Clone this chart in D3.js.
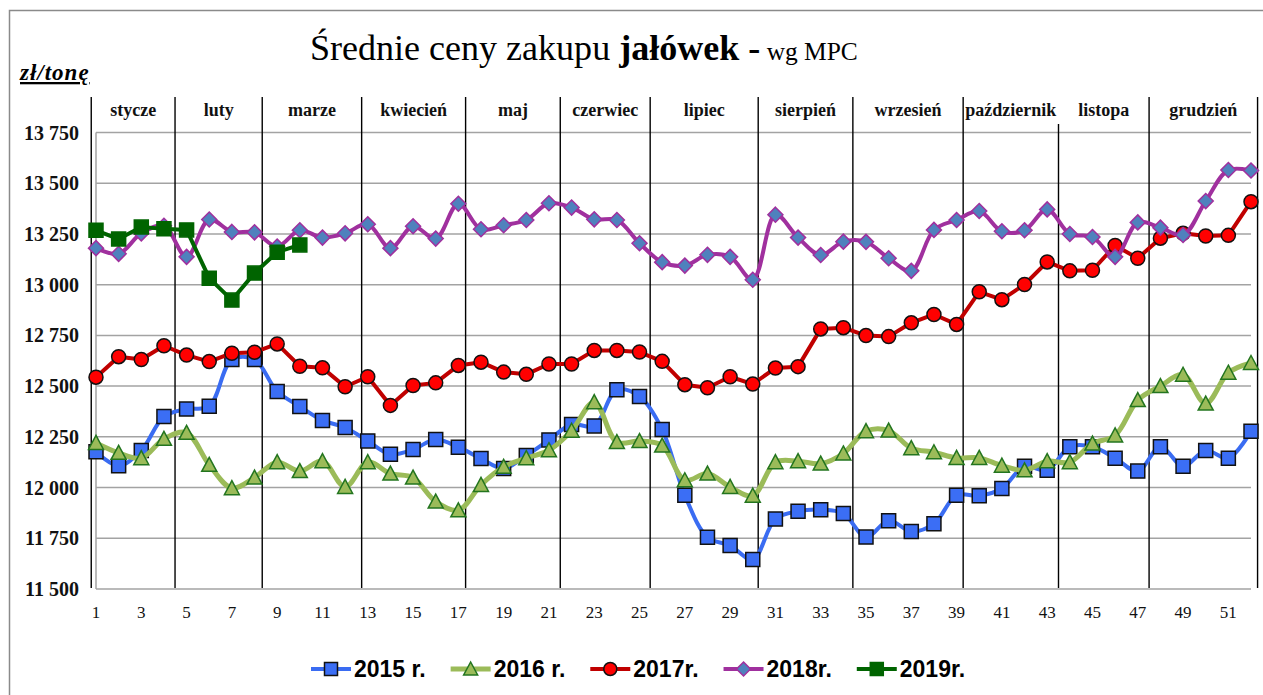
<!DOCTYPE html>
<html>
<head>
<meta charset="utf-8">
<title>Średnie ceny zakupu jałówek</title>
<script src="https://cdnjs.cloudflare.com/ajax/libs/d3/7.8.5/d3.min.js"></script>
<style>
html, body { margin: 0; padding: 0; background: #fff; }
svg { display: block; }
.grid line { stroke: #a3a3a3; stroke-width: 1.5px; }
.month { stroke: #000; stroke-width: 1.4px; }
.mlabel { font: bold 18px "Liberation Serif", "Times New Roman", serif; text-anchor: middle; fill: #111; }
.ylab { font: bold 20px "Liberation Serif", "Times New Roman", serif; text-anchor: end; fill: #111; }
.xlab { font: 17px "Liberation Serif", "Times New Roman", serif; text-anchor: middle; fill: #111; }
.leg { font: bold 23px "Liberation Sans", Arial, sans-serif; fill: #000; }
</style>
</head>
<body>
<svg id="chart" width="1263" height="695"></svg>
<script>

// tygodnie roku
var weeks = [1,2,3,4,5,6,7,8,9,10,11,12,13,14,15,16,17,18,19,20,21,22,23,24,25,26,
  27,28,29,30,31,32,33,34,35,36,37,38,39,40,41,42,43,44,45,46,47,48,49,50,51,52];

var s2015 = [12176,12108,12183,12350,12387,12401,12631,12631,12474,12400,
  12331,12296,12230,12164,12187,12237,12199,12143,12094,12158,
  12235,12311,12304,12482,12449,12286,11962,11755,11714,11645,
  11845,11883,11891,11872,11756,11837,11784,11821,11962,11959,
  11995,12105,12085,12201,12201,12145,12081,12201,12105,12183,
  12145,12278];

var s2016 = [12220,12171,12145,12240,12270,12112,11997,12049,12125,12081,
  12130,12003,12125,12069,12049,11931,11888,12013,12102,12145,
  12184,12280,12421,12224,12229,12207,12036,12069,12003,11960,
  12125,12130,12118,12168,12278,12281,12194,12174,12146,12146,
  12108,12085,12130,12125,12217,12257,12431,12500,12556,12414,
  12566,12614];

var s2017 = [12544,12645,12631,12699,12653,12621,12662,12667,12708,12598,
  12590,12497,12546,12405,12503,12516,12602,12618,12569,12558,
  12609,12609,12676,12676,12668,12622,12507,12492,12546,12510,
  12589,12596,12782,12788,12749,12744,12812,12853,12804,12965,
  12926,13001,13112,13068,13071,13193,13130,13229,13253,13240,
  13243,13409];

var s2018 = [13180,13152,13253,13290,13137,13321,13260,13258,13188,13268,
  13232,13253,13298,13180,13288,13227,13399,13273,13293,13319,
  13401,13380,13322,13319,13204,13111,13094,13147,13137,13024,
  13345,13232,13146,13212,13211,13130,13068,13270,13319,13363,
  13263,13268,13371,13250,13235,13137,13307,13281,13245,13412,
  13565,13563];

var s2019 = [13268,13225,13284,13275,13270,13032,12924,13057,13160,13196];

var yTicks = [11500,11750,12000,12250,12500,12750,13000,13250,13500,13750];
var xTicks = [1,3,5,7,9,11,13,15,17,19,21,23,25,27,29,31,33,35,37,39,41,43,45,47,49,51];

var months = ["stycze","luty","marze","kwiecień","maj","czerwiec","lipiec",
  "sierpień","wrzesień","październik","listopa","grudzień"];
// granice miesięcy (w tygodniach)
var monthBounds = [0.79,4.49,8.34,12.73,17.32,21.5,25.47,30.24,34.42,39.29,43.5,47.5,52.29];

var seriesNames = ["2015 r.","2016 r.","2017r.","2018r.","2019r."];

var svg = d3.select("#chart");

var x = d3.scaleLinear().domain([1, 52]).range([96, 1251]);
var y = d3.scaleLinear().domain([11500, 13750]).range([589, 132.5]);

// ramka
svg.append("path")
    .attr("d", "M9.5,700 L9.5,10.5 L1270,10.5")
    .attr("fill", "none")
    .attr("stroke", "#8a8a8a")
    .attr("stroke-width", 1.5);

// siatka
var grid = svg.append("g").attr("class", "grid");
grid.selectAll("line.h")
  .data(yTicks)
  .enter().append("line")
    .attr("x1", x(1)).attr("x2", x(52))
    .attr("y1", function(d) { return y(d); })
    .attr("y2", function(d) { return y(d); });
grid.append("line")
    .attr("x1", x(1)).attr("x2", x(1))
    .attr("y1", y(13750)).attr("y2", y(11500));

// linie miesięcy
svg.selectAll("line.month")
  .data(monthBounds)
  .enter().append("line")
    .attr("class", "month")
    .attr("x1", function(d) { return x(d); })
    .attr("x2", function(d) { return x(d); })
    .attr("y1", function(d, i) { return i == 10 ? 124 : 97; })
    .attr("y2", 588);

svg.selectAll("text.mlabel")
  .data(months)
  .enter().append("text")
    .attr("class", "mlabel")
    .attr("x", function(d, i) { return (x(monthBounds[i]) + x(monthBounds[i + 1])) / 2; })
    .attr("y", 116)
    .text(function(d) { return d; });

// osie
svg.selectAll("text.ylab")
  .data(yTicks)
  .enter().append("text")
    .attr("class", "ylab")
    .attr("x", 79)
    .attr("y", function(d) { return y(d) + 7; })
    .text(function(d) { return d3.format(",")(d).replace(",", " "); });

svg.selectAll("text.xlab")
  .data(xTicks)
  .enter().append("text")
    .attr("class", "xlab")
    .attr("x", function(d) { return x(d); })
    .attr("y", 618)
    .text(function(d) { return d; });

svg.append("text")
    .attr("x", 20).attr("y", 80)
    .style("font", "italic bold 23px 'Liberation Serif', serif")
    .style("letter-spacing", "1px")
    .style("text-decoration", "underline")
    .text("zł/tonę");

// tytuł
var title = svg.append("text")
    .attr("x", 310).attr("y", 60)
    .style("font-family", "'Liberation Serif', 'Times New Roman', serif")
    .style("fill", "#000");
title.append("tspan").style("font-size", "34px").text("Średnie ceny zakupu ");
title.append("tspan").style("font-size", "34px").style("font-weight", "bold").text("jałówek -");
title.append("tspan").style("font-size", "24px").text(" wg MPC");
var tw = title.node().getComputedTextLength();
var k = 548 / tw;
title.selectAll("tspan").style("font-size", function() {
  return (parseFloat(this.style.fontSize) * k) + "px";
});

// style serii
var styles = [
  {data: s2015, line: "#3a6cf2", width: 4, curve: d3.curveCatmullRom, marker: "square", size: 14, fill: "#3b6ef5", stroke: "#111"},
  {data: s2016, line: "#9bbb59", width: 5, curve: d3.curveCatmullRom, marker: "triangle", size: 13, fill: "#9bbb59", stroke: "#23751f"},
  {data: s2017, line: "#c00000", width: 4, curve: d3.curveLinear, marker: "circle", size: 14, fill: "#ff0000", stroke: "#111"},
  {data: s2018, line: "#a0309e", width: 4, curve: d3.curveCatmullRom, marker: "diamond", size: 13, fill: "#4f81bd", stroke: "#a0309e"},
  {data: s2019, line: "#006400", width: 4, curve: d3.curveLinear, marker: "square", size: 14, fill: "#006400", stroke: "#006400"}
];

function markerPath(type, s) {
  var h = s / 2;
  if (type == "square") return "M" + (-h) + "," + (-h) + "h" + s + "v" + s + "h" + (-s) + "Z";
  if (type == "triangle") return "M0," + (-h - 1) + "L" + (h + 1) + "," + (h) + "L" + (-h - 1) + "," + (h) + "Z";
  if (type == "diamond") return "M0," + (-h - 1) + "L" + (h + 1) + ",0L0," + (h + 1) + "L" + (-h - 1) + ",0Z";
  return d3.symbol(d3.symbolCircle, Math.PI * h * h)();
}

styles.forEach(function(st) {
  var pts = st.data.map(function(v, i) { return [weeks[i], v]; });
  var line = d3.line()
      .x(function(d) { return x(d[0]); })
      .y(function(d) { return y(d[1]); })
      .curve(st.curve);
  var g = svg.append("g");
  g.append("path")
      .attr("d", line(pts))
      .attr("fill", "none")
      .attr("stroke", st.line)
      .attr("stroke-width", st.width)
      .attr("stroke-linejoin", "round");
  g.selectAll("path.m")
    .data(pts)
    .enter().append("path")
      .attr("transform", function(d) { return "translate(" + x(d[0]) + "," + y(d[1]) + ")"; })
      .attr("d", markerPath(st.marker, st.size))
      .attr("fill", st.fill)
      .attr("stroke", st.stroke)
      .attr("stroke-width", 1.5);
});

// legenda
var lx = 311, ly = 669;
styles.forEach(function(st, i) {
  var g = svg.append("g");
  g.append("line")
      .attr("x1", lx).attr("x2", lx + 40)
      .attr("y1", ly).attr("y2", ly)
      .attr("stroke", st.line)
      .attr("stroke-width", st.width);
  g.append("path")
      .attr("transform", "translate(" + (lx + 20) + "," + ly + ")")
      .attr("d", markerPath(st.marker, st.size - 1))
      .attr("fill", st.fill)
      .attr("stroke", st.stroke)
      .attr("stroke-width", 1.5);
  var t = g.append("text")
      .attr("class", "leg")
      .attr("x", lx + 43)
      .attr("y", ly + 8)
      .text(seriesNames[i]);
  lx = lx + 43 + t.node().getComputedTextLength() + 25;
});

</script>
</body>
</html>
